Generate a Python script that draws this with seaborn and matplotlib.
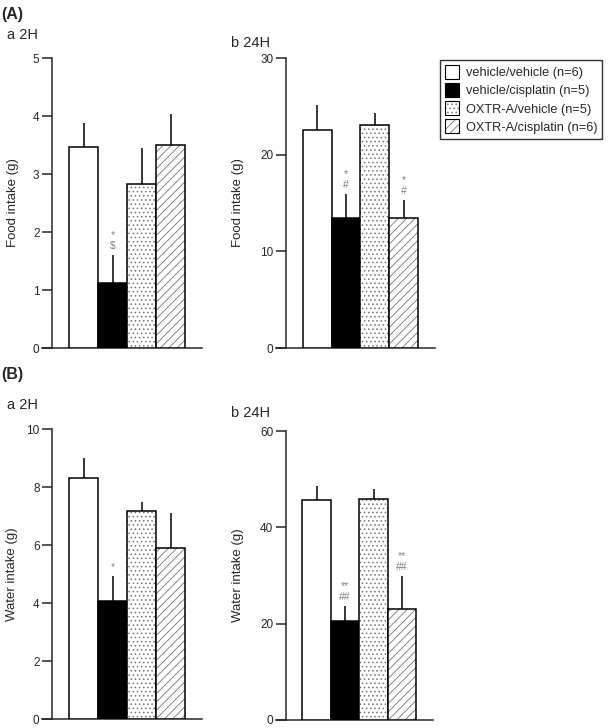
import numpy as np
import pandas as pd
import seaborn as sns
import matplotlib.pyplot as plt
from matplotlib.patches import Patch

# ---- data ----
groups = ["vehicle/vehicle (n=6)", "vehicle/cisplatin (n=5)",
          "OXTR-A/vehicle (n=5)", "OXTR-A/cisplatin (n=6)"]

food_2h = [3.47, 1.12, 2.82, 3.50]
food_2h_sem = [0.41, 0.48, 0.62, 0.53]
food_2h_marks = ["", "*\n$", "", ""]

food_24h = [22.6, 13.5, 23.1, 13.5]
food_24h_sem = [2.5, 2.4, 1.2, 1.8]
food_24h_marks = ["", "*\n#", "", "*\n#"]

water_2h = [8.31, 4.07, 7.17, 5.90]
water_2h_sem = [0.69, 0.86, 0.31, 1.20]
water_2h_marks = ["", "*", "", ""]

water_24h = [45.7, 20.6, 45.9, 23.0]
water_24h_sem = [2.9, 3.1, 2.1, 6.9]
water_24h_marks = ["", "**\n##", "", "**\n##"]

fills = ["white", "black", "white", "white"]
hatches = [None, None, "....", "////"]

sns.set_style("ticks")
plt.rcParams["font.family"] = ["Liberation Sans", "DejaVu Sans"]
plt.rcParams["hatch.linewidth"] = 0.6

W, H = 610, 728
fig = plt.figure(figsize=(W / 100, H / 100), dpi=100)
HATCH_GREY = (0.45, 0.45, 0.45, 1)


def px_axes(left, right, bottom, top):
    return fig.add_axes([left / W, 1 - bottom / H, (right - left) / W, (bottom - top) / H])


def draw_panel(ax, means, sems, marks, ymax, ystep, ylabel, label_x):
    df = pd.DataFrame({"group": groups, "value": means})
    sns.barplot(data=df, x="group", y="value", hue="group", order=groups,
                hue_order=groups, palette=dict(zip(groups, fills)),
                width=1.0, edgecolor="black", linewidth=1.1, saturation=1,
                legend=False, ax=ax, zorder=3)
    for patch, h in zip(ax.patches, hatches):
        if h:
            patch.set_hatch(h)
            patch._hatch_color = HATCH_GREY
    x = np.arange(len(groups))
    ax.errorbar(x, means, yerr=[np.zeros(len(sems)), sems], fmt="none",
                ecolor="black", elinewidth=1.1, capsize=0, zorder=2)
    for xi, m, s, t in zip(x, means, sems, marks):
        if t:
            ax.annotate(t, xy=(xi, m + s), xytext=(0, 3), textcoords="offset points",
                        ha="center", va="bottom", fontsize=7.5, color="#808080",
                        linespacing=1.1)
    ax.set_xlim(-0.5 - 27 / 29, 3.5 + 17 / 29)
    ax.set_ylim(0, ymax)
    ax.set_yticks(np.arange(0, ymax + ystep / 2, ystep))
    ax.set_xticks([])
    ax.set_xlabel("")
    ax.set_ylabel(ylabel, fontsize=9.5, va="center")
    ax.yaxis.set_label_coords(label_x, 0.5)
    ax.spines["left"].set_position(("data", -0.5 - 17 / 29))
    for sp in ["top", "right"]:
        ax.spines[sp].set_visible(False)
    for sp in ["left", "bottom"]:
        ax.spines[sp].set_linewidth(1.1)
    ax.tick_params(axis="y", length=7, width=1.1, labelsize=8.5, pad=2)


ax1 = px_axes(42, 202, 348, 58)
draw_panel(ax1, food_2h, food_2h_sem, food_2h_marks, 5, 1, "Food intake (g)", (13 - 42) / 160)
ax2 = px_axes(276, 435, 348, 58)
draw_panel(ax2, food_24h, food_24h_sem, food_24h_marks, 30, 10, "Food intake (g)", (238 - 276) / 159)
ax3 = px_axes(42, 202, 719, 429)
draw_panel(ax3, water_2h, water_2h_sem, water_2h_marks, 10, 2, "Water intake (g)", (12 - 42) / 160)
ax4 = px_axes(276, 433, 720, 431)
draw_panel(ax4, water_24h, water_24h_sem, water_24h_marks, 60, 20, "Water intake (g)", (238 - 276) / 157)

# panel letters and titles
fig.text(1 / W, 1 - 15 / H, "(A)", fontsize=11.5, fontweight="bold", va="center")
fig.text(7 / W, 1 - 35 / H, "a 2H", fontsize=10.5, va="center")
fig.text(231 / W, 1 - 43 / H, "b 24H", fontsize=10.5, va="center")
fig.text(1 / W, 1 - 375 / H, "(B)", fontsize=11.5, fontweight="bold", va="center")
fig.text(7 / W, 1 - 405 / H, "a 2H", fontsize=10.5, va="center")
fig.text(231 / W, 1 - 413 / H, "b 24H", fontsize=10.5, va="center")

handles = []
for g, f, h in zip(groups, fills, hatches):
    p = Patch(facecolor=f, edgecolor="black", hatch=h, linewidth=0.8, label=g)
    handles.append(p)
leg = fig.legend(handles=handles, loc="upper left",
                 bbox_to_anchor=(440 / W, 1 - 60 / H), fontsize=9.2,
                 frameon=True, fancybox=False, edgecolor="black",
                 handlelength=1.1, handleheight=1.3, handletextpad=0.5,
                 labelspacing=0.3, borderpad=0.4, borderaxespad=0)
leg.get_frame().set_linewidth(1.0)
for p in leg.get_patches():
    if p.get_hatch():
        p._hatch_color = HATCH_GREY

fig.savefig("out.png", dpi=100)
